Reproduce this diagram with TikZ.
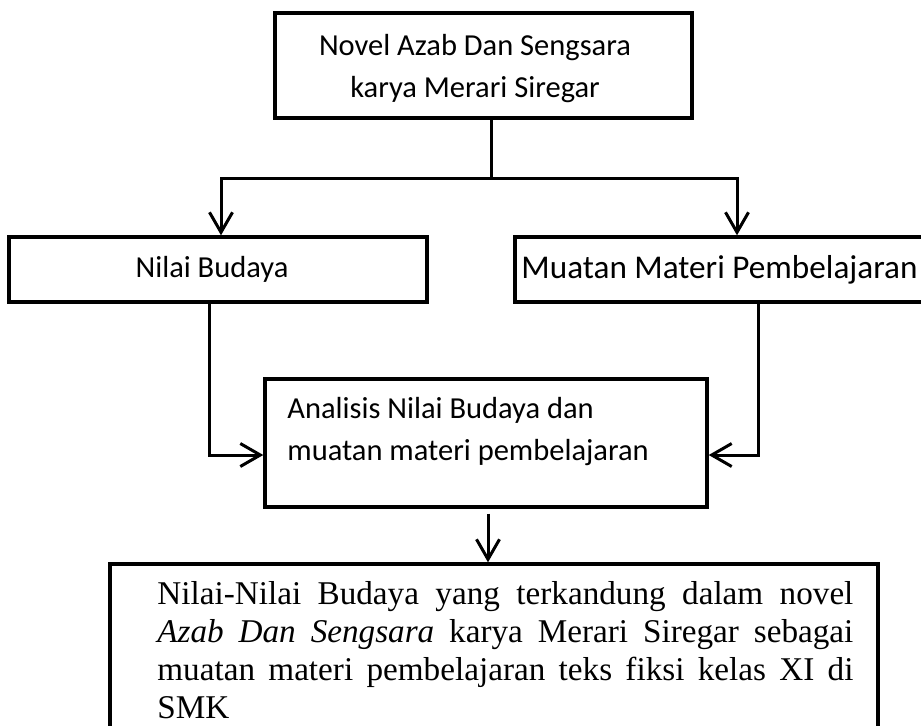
\documentclass[tikz,border=0pt]{standalone}
\usepackage{fontspec}
\setmainfont{Liberation Serif}
\newfontfamily\calfont{Carlito}
\usetikzlibrary{arrows.meta}
\begin{document}
\begin{tikzpicture}[x=0.5pt,y=-0.5pt,
  boxst/.style={draw=black,line width=1.7pt,rectangle,inner sep=0pt},
  caltext/.style={font=\calfont\fontsize{15.25}{21}\selectfont,inner sep=0pt},
  calbig/.style={font=\calfont\fontsize{16.6}{21}\selectfont,inner sep=0pt},
  sertext/.style={font=\fontsize{16.6}{19}\selectfont,inner sep=0pt},
  conn/.style={line width=1.5pt},
  arr/.style={line width=1.5pt,-{Straight Barb[length=10pt,width=11.5pt,line width=1.5pt]}}
]
\useasboundingbox (0,0) rectangle (921,725);
\clip (0,0) rectangle (921,725);
% boxes
\node[boxst,minimum width=208.5pt,minimum height=52.5pt] (top) at (483.5,65.5) {};
\node[caltext,anchor=base,align=center] (toptext) at (475,97) {Novel Azab Dan Sengsara\\karya Merari Siregar};
\node[boxst,caltext,minimum width=209pt,minimum height=32.5pt] (nb) at (218,269.5) {\hspace*{-6pt}Nilai Budaya};
\node[boxst,calbig,minimum width=210pt,minimum height=32.5pt] (mm) at (725,269.5) {Muatan Materi Pembelajaran\hspace*{5.5pt}};
\node[boxst,minimum width=221pt,minimum height=64pt] (an) at (486,443) {};
\node[caltext,anchor=base west,align=left] (antext) at (287,460) {Analisis Nilai Budaya dan\\muatan materi pembelajaran};
\node[boxst,minimum width=384pt,minimum height=92pt] (bt) at (494,656) {};
\node[sertext,anchor=base west,text width=348pt,align=justify] (bttext) at (157,604) {\hyphenpenalty=10000 Nilai-Nilai Budaya yang terkandung dalam novel\linebreak \textit{Azab Dan Sengsara} karya Merari Siregar sebagai\linebreak muatan materi pembelajaran teks fiksi kelas XI di\linebreak SMK};
% connector coordinates
\coordinate (split) at (491,178);
\coordinate (lb) at (221,178);
\coordinate (rb) at (737,178);
\coordinate (lv) at (209,455);
\coordinate (rv) at (758,455);
\coordinate (dx) at (488,540);
% connectors
\draw[conn] (top.south -| split) -- (split);
\draw[arr] (split) -| (lb |- nb.north);
\draw[arr] (split) -| (rb |- mm.north);
\draw[arr] (nb.south -| lv) |- (an.west |- lv);
\draw[arr] (mm.south -| rv) |- (an.east |- rv);
\draw[arr,shorten <=2.5pt] (an.south -| dx) -- (bt.north -| dx);
\end{tikzpicture}
\end{document}
